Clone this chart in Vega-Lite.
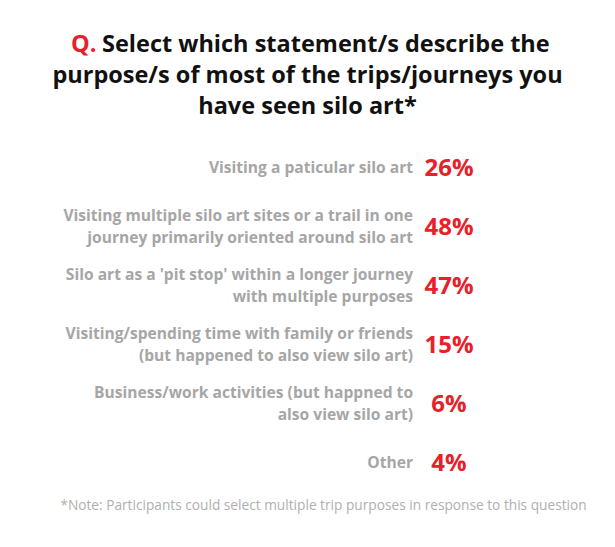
{
  "$schema": "https://vega.github.io/schema/vega-lite/v6.json",
  "autosize": {"type": "none"},
  "width": 615,
  "height": 355,
  "padding": {"top": 138, "bottom": 54, "left": 0, "right": 0},
  "background": "white",
  "config": {"view": {"stroke": null}, "font": "Open Sans"},
  "data": {
    "values": [
      {"purpose": "Visiting a paticular silo art", "single": "Visiting a paticular silo art", "line1": "", "line2": "", "pct": 0.26},
      {"purpose": "Visiting multiple silo art sites or a trail in one journey primarily oriented around silo art", "single": "", "line1": "Visiting multiple silo art sites or a trail in one", "line2": "journey primarily oriented around silo art", "pct": 0.48},
      {"purpose": "Silo art as a 'pit stop' within a longer journey with multiple purposes", "single": "", "line1": "Silo art as a 'pit stop' within a longer journey", "line2": "with multiple purposes", "pct": 0.47},
      {"purpose": "Visiting/spending time with family or friends (but happened to also view silo art)", "single": "", "line1": "Visiting/spending time with family or friends", "line2": "(but happened to also view silo art)", "pct": 0.15},
      {"purpose": "Business/work activities (but happned to also view silo art)", "single": "", "line1": "Business/work activities (but happned to", "line2": "also view silo art)", "pct": 0.06},
      {"purpose": "Other", "single": "Other", "line1": "", "line2": "", "pct": 0.04}
    ]
  },
  "layer": [
    {
      "mark": {"type": "text", "align": "right", "baseline": "middle", "fontSize": 15.6, "fontWeight": "bold", "color": "#a6a6a6", "dx": -7, "font": "Open Sans"},
      "encoding": {
        "y": {"field": "purpose", "type": "nominal", "sort": null, "axis": null},
        "x": {"datum": 0.683, "type": "quantitative", "scale": {"domain": [0, 1]},
          "axis": {"domain": false, "ticks": false, "labels": false, "grid": false, "title": "*Note: Participants could select multiple trip purposes in response to this question", "titleFontSize": 13.7, "titleFontWeight": "normal", "titleColor": "#b0b0b0", "titlePadding": 5, "titleFont": "Open Sans", "titleX": 323}},
        "text": {"field": "single"}
      }
    },
    {
      "mark": {"type": "text", "align": "right", "baseline": "middle", "fontSize": 15.6, "fontWeight": "bold", "color": "#a6a6a6", "dx": -7, "dy": -11, "font": "Open Sans"},
      "encoding": {
        "y": {"field": "purpose", "type": "nominal", "sort": null},
        "x": {"datum": 0.683, "type": "quantitative"},
        "text": {"field": "line1"}
      }
    },
    {
      "mark": {"type": "text", "align": "right", "baseline": "middle", "fontSize": 15.6, "fontWeight": "bold", "color": "#a6a6a6", "dx": -7, "dy": 11, "font": "Open Sans"},
      "encoding": {
        "y": {"field": "purpose", "type": "nominal", "sort": null},
        "x": {"datum": 0.683, "type": "quantitative"},
        "text": {"field": "line2"}
      }
    },
    {
      "mark": {"type": "text", "align": "center", "baseline": "middle", "fontSize": 24, "fontWeight": "bold", "color": "#e8202a", "dx": 29, "dy": 1, "font": "Open Sans"},
      "encoding": {
        "y": {"field": "purpose", "type": "nominal", "sort": null},
        "x": {"datum": 0.683, "type": "quantitative"},
        "text": {"field": "pct", "format": ".0%"}
      }
    },
    {
      "data": {"values": [{"t": "Q."}]},
      "mark": {"type": "text", "align": "left", "baseline": "middle", "fontSize": 23.5, "fontWeight": "bold", "color": "#e8202a", "font": "Open Sans"},
      "encoding": {
        "x": {"datum": 0.1154, "type": "quantitative"},
        "y": {"value": -93},
        "text": {"field": "t"}
      }
    },
    {
      "data": {"values": [{"t": "Select which statement/s describe the"}]},
      "mark": {"type": "text", "align": "left", "baseline": "middle", "fontSize": 23.5, "fontWeight": "bold", "color": "#111111", "font": "Open Sans"},
      "encoding": {
        "x": {"datum": 0.1659, "type": "quantitative"},
        "y": {"value": -93},
        "text": {"field": "t"}
      }
    },
    {
      "data": {"values": [{"t": "purpose/s of most of the trips/journeys you"}]},
      "mark": {"type": "text", "align": "center", "baseline": "middle", "fontSize": 23.5, "fontWeight": "bold", "color": "#111111", "font": "Open Sans"},
      "encoding": {
        "x": {"datum": 0.5, "type": "quantitative"},
        "y": {"value": -62},
        "text": {"field": "t"}
      }
    },
    {
      "data": {"values": [{"t": "have seen silo art*"}]},
      "mark": {"type": "text", "align": "center", "baseline": "middle", "fontSize": 23.5, "fontWeight": "bold", "color": "#111111", "font": "Open Sans"},
      "encoding": {
        "x": {"datum": 0.5, "type": "quantitative"},
        "y": {"value": -31},
        "text": {"field": "t"}
      }
    }
  ]
}
